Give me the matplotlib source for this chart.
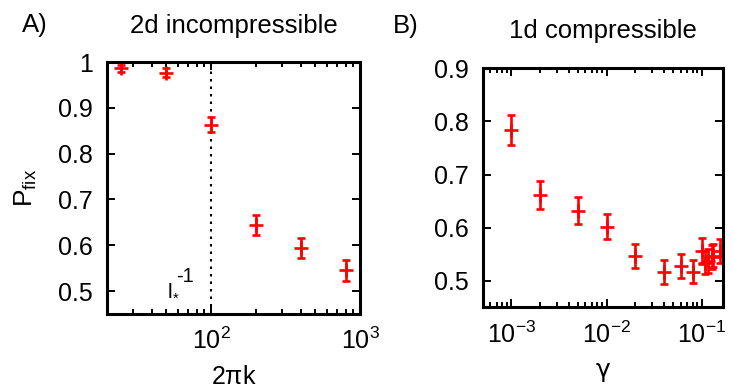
import matplotlib
matplotlib.use("Agg")
import matplotlib.pyplot as plt
from matplotlib.ticker import FixedLocator, FixedFormatter, LogLocator, NullFormatter

plt.rcParams['font.family'] = ['Liberation Sans', 'DejaVu Sans']
plt.rcParams['mathtext.default'] = 'regular'

# Panel A: 2d incompressible
kA = [25, 50, 100, 200, 400, 800]
pA = [0.986, 0.977, 0.863, 0.645, 0.594, 0.545]
eA = [0.007, 0.009, 0.016, 0.022, 0.022, 0.023]

# Panel B: 1d compressible
gB = [1e-3, 2e-3, 5e-3, 1e-2, 2e-2, 4e-2, 6e-2, 8e-2, 0.1, 0.108, 0.117, 0.127, 0.132, 0.156]
pB = [0.784, 0.662, 0.632, 0.602, 0.547, 0.517, 0.528, 0.517, 0.556, 0.534, 0.537, 0.545, 0.547, 0.556]
eB = [0.028, 0.026, 0.025, 0.024, 0.023, 0.0225, 0.022, 0.022, 0.024, 0.022, 0.022, 0.022, 0.022, 0.022]

yticksA = [0.5, 0.6, 0.7, 0.8, 0.9, 1.0]
yticklabelsA = ['0.5', '0.6', '0.7', '0.8', '0.9', '1']
xticksA = [1e2, 1e3]
xticklabelsA = [r'$10^{2}$', r'$10^{3}$']
yticksB = [0.5, 0.6, 0.7, 0.8, 0.9]
yticklabelsB = ['0.5', '0.6', '0.7', '0.8', '0.9']
xticksB = [1e-3, 1e-2, 1e-1]
xticklabelsB = [r'$10^{-3}$', r'$10^{-2}$', r'$10^{-1}$']
kstar = 100

FS = 18
W, H = 733, 389
fig = plt.figure(figsize=(W / 100, H / 100), dpi=100)

def px_axes(l, t, r, b):
    return fig.add_axes([l / W, 1 - b / H, (r - l) / W, (b - t) / H])

axA = px_axes(107, 62, 360, 314)
axB = px_axes(482.7, 68.3, 723.3, 307.3)

err_kw = dict(fmt='+', color='#ff0000', markersize=10.5, mew=1.9,
              elinewidth=1.9, capsize=2.6, capthick=1.9, linestyle='none')

axA.errorbar(kA, pA, yerr=eA, **err_kw)
axB.errorbar(gB, pB, yerr=eB, **err_kw)

axA.axvline(kstar, color='black', linestyle=(0, (1.2, 2.4)), linewidth=1.5, zorder=0)
# annotation l_*^-1 built from pieces
ax_pt = dict(xy=(51.4, 0.486), xycoords='data', textcoords='offset points', va='baseline', ha='left')
axA.annotate('l', xytext=(0, 0), fontsize=15, **ax_pt)
axA.annotate('*', xytext=(3.6, -3.5), fontsize=10.5, **ax_pt)
axA.annotate('-1', xytext=(5.8, 11), fontsize=14.5, **ax_pt)

for ax, xl, yl, yt, ytl, xt, xtl in [
        (axA, (20, 1000), (0.45, 1.0), yticksA, yticklabelsA, xticksA, xticklabelsA),
        (axB, (5e-4, 0.168), (0.45, 0.9), yticksB, yticklabelsB, xticksB, xticklabelsB)]:
    ax.set_xscale('log')
    ax.set_xlim(*xl)
    ax.set_ylim(*yl)
    ax.xaxis.set_major_locator(FixedLocator(xt))
    ax.xaxis.set_major_formatter(FixedFormatter(xtl))
    ax.xaxis.set_minor_locator(LogLocator(base=10, subs=range(2, 10), numticks=20))
    ax.xaxis.set_minor_formatter(NullFormatter())
    ax.yaxis.set_major_locator(FixedLocator(yt))
    ax.yaxis.set_major_formatter(FixedFormatter(ytl))
    ax.tick_params(which='both', direction='in', top=True, right=True, labelsize=FS)
    ax.tick_params(which='major', length=6, width=1.4)
    ax.tick_params(which='minor', length=3.5, width=1.4)
    ax.tick_params(axis='y', pad=10)
    ax.tick_params(axis='x', pad=10)
    for s in ax.spines.values():
        s.set_linewidth(2.2)

axA.set_xlabel(r'2$\pi$k', fontsize=FS)
axA.xaxis.set_label_coords(0.5, -0.278)
axA.xaxis.label.set_va('baseline')
axA.set_ylabel(r'$P_{fix}$', fontsize=FS + 1)
axA.yaxis.label.set_va('center')
axA.yaxis.set_label_coords(-0.32, 0.5)

axB.set_xlabel('γ', fontsize=FS, family=['DejaVu Sans'])
axB.xaxis.set_label_coords(0.5, -0.292)
axB.xaxis.label.set_va('baseline')

fig.text(233.5 / W, 1 - 33 / H, '2d incompressible', fontsize=18.5, ha='center', va='baseline')
fig.text(603 / W, 1 - 38 / H, '1d compressible', fontsize=18.5, ha='center', va='baseline')
fig.text(22 / W, 1 - 32 / H, 'A)', fontsize=18.5, ha='left', va='baseline')
fig.text(392.7 / W, 1 - 32.7 / H, 'B)', fontsize=18.5, ha='left', va='baseline')

fig.savefig('out.png', dpi=100)
